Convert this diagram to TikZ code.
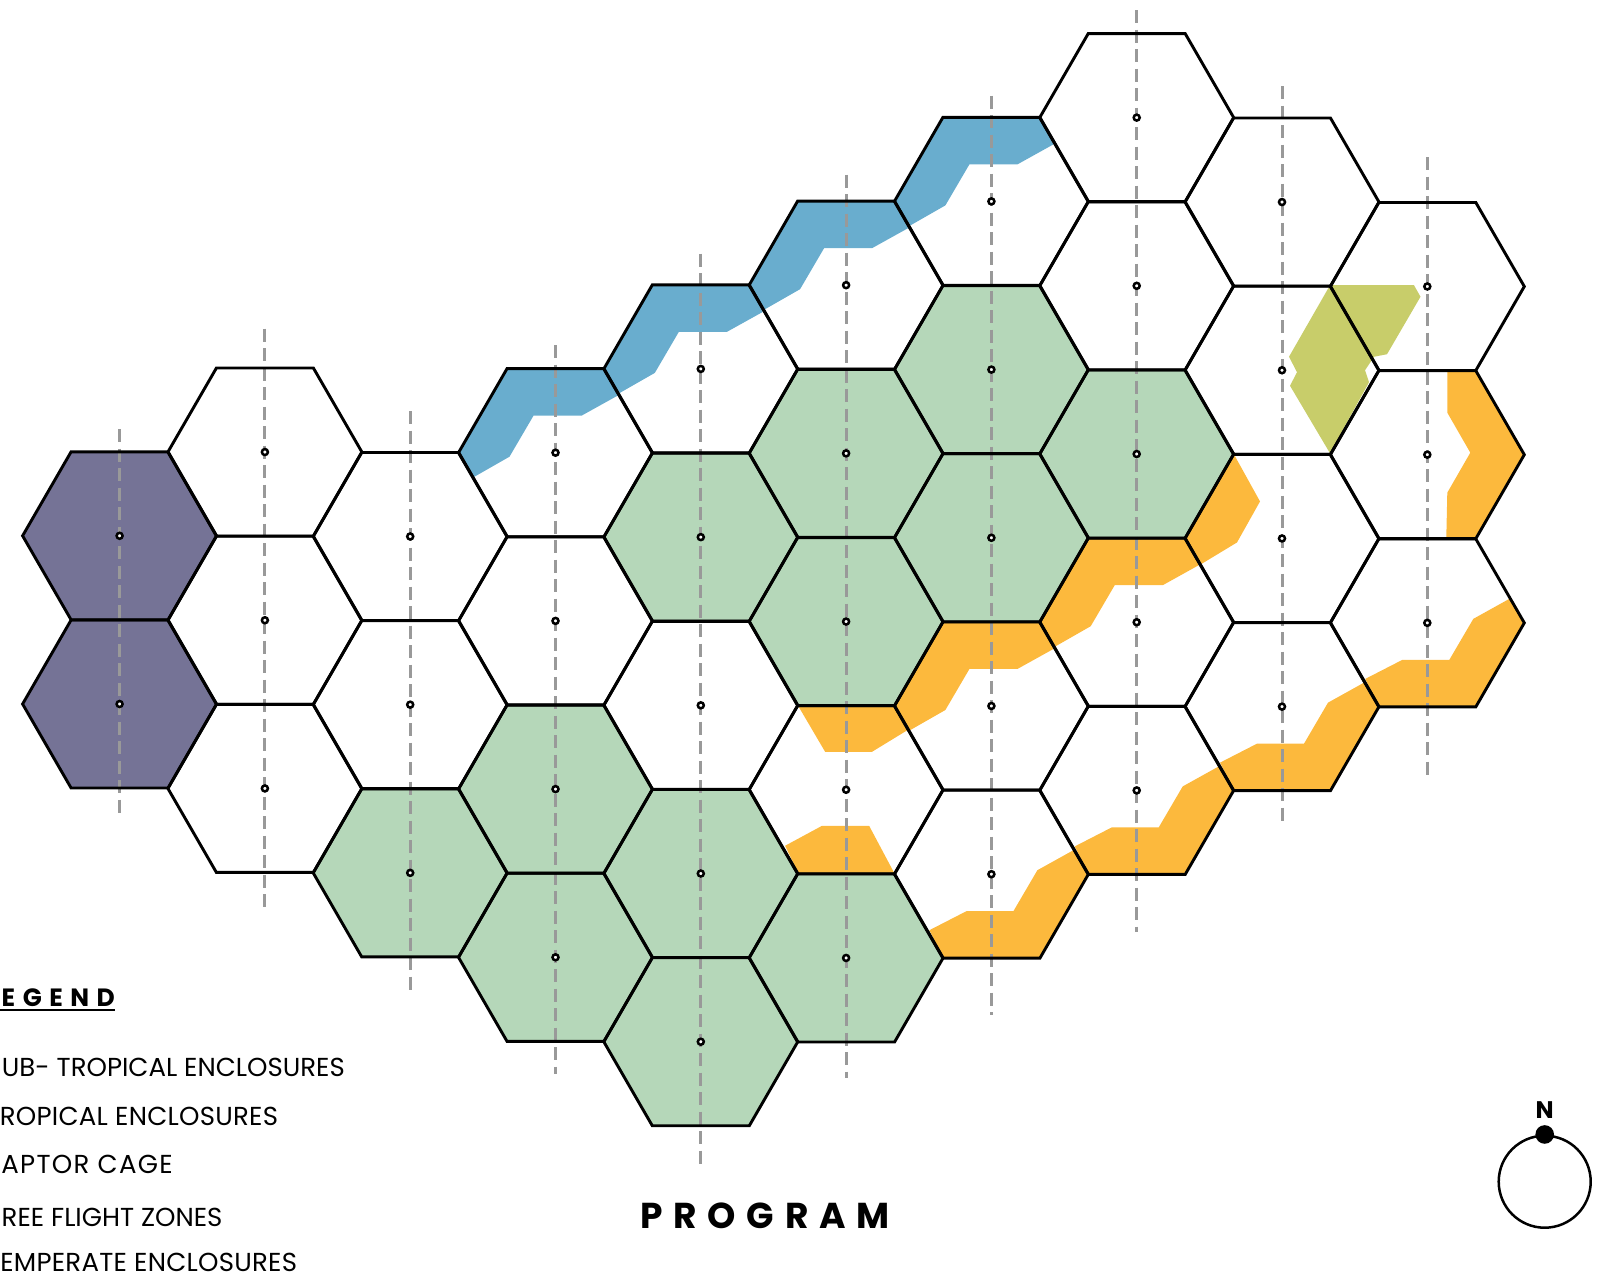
\documentclass[tikz,border=0pt]{standalone}
\usepackage{fontspec}
\setmainfont{Poppins}
\newfontfamily\titlefont[LetterSpace=30]{Poppins}
\usetikzlibrary{shapes.geometric, positioning, backgrounds}

\definecolor{tropicalgreen}{HTML}{B5D7B9}
\definecolor{raptorpurple}{HTML}{757396}
\definecolor{subtropicalblue}{HTML}{69ADCE}
\definecolor{flightorange}{HTML}{FCB93D}
\definecolor{temperateolive}{HTML}{C8CD6A}
\definecolor{axisgray}{HTML}{999999}

\begin{document}
\begin{tikzpicture}[
		x=1pt, y=-1pt,
		% Celda hexagonal de la malla
		hexcell/.style = {regular polygon, regular polygon sides=6, minimum size=194pt, inner sep=0pt, outer sep=0pt, line width=2.9pt, line join=miter},
		hexfill/.style = {hexcell, draw=none},
		hubdot/.style = {circle, draw, fill=white, line width=2.5pt, minimum size=6pt, inner sep=0pt},
		axisline/.style = {draw=axisgray, line width=3pt, dash pattern=on 13pt off 6.5pt},
		legendtext/.style = {anchor=base east, inner sep=0pt, font=\fontsize{26}{26}\selectfont},
		% Banda superior e inferior de cada celda
		upperband/.pic = {\fill[pic actions] (-48,-84) -- (49,-84) -- (62,-57) -- (26,-37) -- (-22,-37) -- (-46,4) -- (-81,24) -- (-97,0) -- cycle;},
		lowerband/.pic = {\fill[pic actions] (48,84) -- (-48,84) -- (-62,56) -- (-25,37) -- (22,37) -- (46,-4) -- (82,-24) -- (97,0) -- cycle;}
		]
		
		\useasboundingbox (0,0) rectangle (1610,1280);
		
		% --- MALLA DE HEXAGONOS ---
		\foreach \c/\rows in {0/{5,7}, 1/{4,6,8}, 2/{5,7,9}, 3/{4,6,8,10}, 4/{3,5,7,9,11}, 5/{2,4,6,8,10}, 6/{1,3,5,7,9}, 7/{0,2,4,6,8}, 8/{1,3,5,7}, 9/{2,4,6}} {
			\foreach \r in \rows {
				\node [hexcell, draw] (hex_\c_\r) at ({119.6+145.3*\c},{115.3+84.1*\r+0.33*\c}) {};
				\node [hubdot] (hub_\c_\r) at (hex_\c_\r) {};
			}
		}
		
		% --- CAPA DE FONDO (rellenos, bandas y ejes) ---
		\begin{scope}[on background layer]
			\foreach \c/\r in {0/5, 0/7} {
				\node [hexfill, fill=raptorpurple] (fill_\c_\r) at (hex_\c_\r) {};
			}
			\foreach \c/\r in {2/9, 3/8, 3/10, 4/5, 4/9, 4/11, 5/4, 5/6, 5/10, 6/3, 6/5, 7/4} {
				\node [hexfill, fill=tropicalgreen] (fill_\c_\r) at (hex_\c_\r) {};
			}
			
			\foreach \c/\r in {3/4, 4/3, 5/2, 6/1} {
				\path (hex_\c_\r) pic [fill=subtropicalblue] {upperband};
			}
			\foreach \c/\r in {6/7, 7/6} {
				\path (hex_\c_\r) pic [fill=flightorange] {upperband};
			}
			\foreach \c/\r in {6/9, 7/8, 8/7, 9/6} {
				\path (hex_\c_\r) pic [fill=flightorange] {lowerband};
			}
			
			% Trozos de banda sueltos
			\fill [flightorange, shift={(hex_5_8)}] (-48,-84) -- (49,-84) -- (62,-60) -- (26,-38) -- (-21,-38) -- cycle;
			\fill [flightorange, shift={(hex_5_8)}] (-48,83) -- (48,83) -- (23,36) -- (-24,36) -- (-61,56) -- cycle;
			\fill [flightorange, shift={(hex_8_5)}] (-48,-84) -- (-22,-37) -- (-45,4) -- (-83,27) -- (-97,0) -- cycle;
			\fill [flightorange, shift={(hex_9_4)}] (20,-84) -- (49,-84) -- (97,0) -- (48,83) -- (19,83) -- (20,38) -- (43,-2) -- (20,-42) -- cycle;
			\fill [temperateolive, shift={(hex_8_3)}] (48,-85) -- (132,-85) -- (138.5,-73.5) -- (105,-16) -- (92,-13.5) -- (83,0) -- (87,12) -- (48,83) -- (8,15.5) -- (15,2) -- (7,-13.5) -- cycle;
			
			\foreach \c/\r/\t/\b in {0/5/429/818, 1/4/328.5/912, 2/5/411/996, 3/4/345/1074, 4/3/253.6/1168.5, 5/2/174.5/1078, 6/1/95.5/1014.5, 7/0/10/932, 8/1/86/826.5, 9/2/157/778} {
				\coordinate (axis_top_\c) at (hex_\c_\r |- 0,\t);
				\coordinate (axis_end_\c) at (hex_\c_\r |- 0,\b);
				\draw [axisline] (axis_top_\c) -- (axis_end_\c);
			}
		\end{scope}
		
		% --- LEYENDA ---
		\node [anchor=base east, inner sep=0pt, font=\titlefont\bfseries\fontsize{25}{25}\selectfont] (legend_title) at (115,1006.7) {EGEND};
		\coordinate (legend_rule_l) at (0,1010);
		\coordinate (legend_rule_r) at (115,1010);
		\draw [line width=2.5pt] (legend_rule_l) -- (legend_rule_r);
		
		\node [legendtext] (legend_sub) at (345,1076) {UB- TROPICAL ENCLOSURES};
		\node [legendtext] (legend_tro) at (278.3,1125) {\addfontfeature{LetterSpace=1}ROPICAL ENCLOSURES};
		\node [legendtext] (legend_rap) at (173,1173.7) {\addfontfeature{LetterSpace=5}APTOR CAGE};
		\node [legendtext] (legend_fre) at (222.7,1226.7) {REE FLIGHT ZONES};
		\node [legendtext] (legend_tem) at (297.3,1271.7) {\addfontfeature{LetterSpace=1}EMPERATE ENCLOSURES};
		
		% --- TITULO ---
		\node [anchor=base west, inner sep=0pt, font=\titlefont\bfseries\fontsize{36}{36}\selectfont] (title) at (640,1228.5) {PROGRAM};
		
		% --- NORTE ---
		\node [circle, draw, line width=2.5pt, minimum size=92pt, inner sep=0pt] (compass) at (1544.7,1181.7) {};
		\node [circle, fill=black, minimum size=18.6pt, inner sep=0pt] (north_dot) at (compass.north) {};
		\node [above=6pt of north_dot, inner sep=0pt, font=\bfseries\fontsize{24}{24}\selectfont] (north_label) {N};
		
	\end{tikzpicture}
\end{document}
